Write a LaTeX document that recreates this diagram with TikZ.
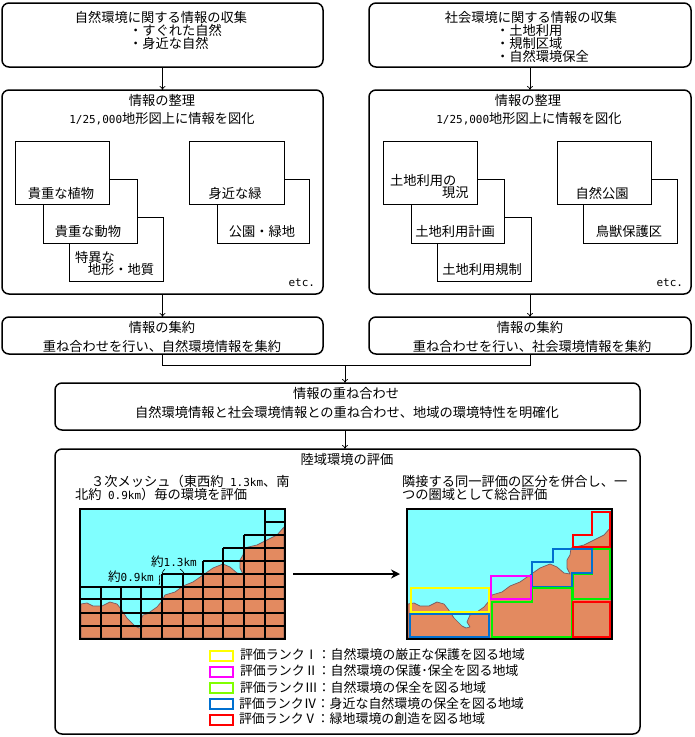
\documentclass[tikz,border=0pt]{standalone}
\usepackage{fontspec}
\setmainfont{Noto Sans CJK JP}
\newfontfamily\hw{DejaVu Sans Mono}
\usetikzlibrary{arrows.meta}
\tikzset{
  x=1pt,y=-1pt,
  every node/.style={inner sep=0pt,outer sep=0pt,font=\fontsize{13.25}{13}\selectfont},
  rbox/.style={draw=black,line width=1.5pt,rounded corners=7pt,fill=white},
  sbox/.style={draw=black,line width=0.8pt,fill=white},
  link/.style={draw=black,line width=0.7pt},
  flow/.style={link,-{To[length=4pt,width=6pt]}},
  swatch/.style={draw,line width=2pt,fill=white,minimum width=23pt,minimum height=10pt},
  lt/.style={anchor=west},
  legendtext/.style={anchor=west,font=\fontsize{12.95}{13}\selectfont},
  grid line/.style={draw=black,line width=1.3pt},
  rank/.style={line width=2pt,line join=miter},
}
\newcommand{\bx}[6]{% style,name,x1,y1,x2,y2
  \pgfmathsetmacro{\bw}{#5-#3}\pgfmathsetmacro{\bh}{#6-#4}
  \pgfmathsetmacro{\bcx}{(#3+#5)/2}\pgfmathsetmacro{\bcy}{(#4+#6)/2}
  \node[#1,minimum width=\bw pt,minimum height=\bh pt] (#2) at (\bcx,\bcy) {};}
\newcommand{\hwt}[1]{{\hw\fontsize{11}{13}\selectfont #1}}
\newcommand{\mapbase}{%
  \fill[seacol] (80,509) rectangle (285,639);
  \filldraw[fill=landcol,draw=coastcol,line width=0.7pt,line join=round]
    (81,604) -- (87,603) -- (93,606) -- (102,606) -- (110,602) -- (117,604) -- (121,609) -- (127,618)
    -- (135,626) -- (139,628) -- (143,627) -- (140,622) -- (143,615) -- (147,614) -- (157,607) -- (162,601)
    -- (165,595) -- (175,592) -- (183,586) -- (193,582) -- (203,575) -- (213,568) -- (223,564)
    -- (230,567) -- (237,573) -- (243,574) -- (240,568) -- (240,560) -- (243,555) -- (244,548)
    -- (257,545) -- (265,541) -- (277,535) -- (284,527) -- (284,638) -- (81,638) -- cycle;
}
\definecolor{seacol}{HTML}{80FFFF}
\definecolor{landcol}{HTML}{E38A60}
\definecolor{coastcol}{HTML}{7A5A60}
\definecolor{rkyellow}{HTML}{FFFF00}
\definecolor{rkmagenta}{HTML}{FF00FF}
\definecolor{rkgreen}{HTML}{00F000}
\definecolor{rklime}{HTML}{80FF00}
\definecolor{rkblue}{HTML}{0070D0}
\definecolor{rkred}{HTML}{FF0000}
\begin{document}
\begin{tikzpicture}
\useasboundingbox (0,0) rectangle (695,737);
\fill[white] (0,0) rectangle (695,737);
% main boxes
\bx{rbox}{a1}{2}{3}{323}{67}
\bx{rbox}{b1}{369}{3}{691}{67}
\bx{rbox}{a2}{2}{90}{323}{294}
\bx{rbox}{b2}{369}{90}{691}{294}
\bx{rbox}{a3}{2}{317}{323}{354}
\bx{rbox}{b3}{369}{317}{691}{354}
\bx{rbox}{c1}{55}{383}{640}{430}
\bx{rbox}{c2}{55}{449}{640}{734}
% connectors
\draw[flow] (a1.south) -- (a2.north);
\draw[flow] (b1.south) -- (b2.north);
\draw[flow] (a2.south) -- (a3.north);
\draw[flow] (b2.south) -- (b3.north);
\coordinate (junction) at (345,365);
\draw[link] (a3.south) |- (junction);
\draw[link] (b3.south) |- (junction);
\draw[flow] (junction) -- (junction |- c1.north);
\draw[flow] (junction |- c1.south) -- (junction |- c2.north);
% top texts
\node (t1) at (161,17) {自然環境に関する情報の収集};
\node[lt] (t2) at (129,30) {・すぐれた自然};
\node[lt] (t3) at (129,43) {・身近な自然};
\node (t4) at (531,17) {社会環境に関する情報の収集};
\node[lt] (t5) at (496,30) {・土地利用};
\node[lt] (t6) at (496,43) {・規制区域};
\node[lt] (t7) at (496,56) {・自然環境保全};
% left inner
\node (t8) at (162,100) {情報の整理};
\node (t9) at (162,119) {\hwt{1/25,000}地形図上に情報を図化};
\bx{sbox}{s3}{69}{217}{163}{281}
\bx{sbox}{s2}{43}{179}{137}{243}
\bx{sbox}{s1}{15}{141}{109}{204}
\bx{sbox}{s5}{217}{179}{309}{243}
\bx{sbox}{s4}{189}{141}{284}{204}
\node (t10) at (61,193) {貴重な植物};
\node (t11) at (88,231) {貴重な動物};
\node[lt] (t12) at (75,257) {特異な};
\node (t13) at (121,269) {地形・地質};
\node (t14) at (235,193) {身近な緑};
\node (t15) at (262,231) {公園・緑地};
\node[anchor=east] (t16) at (315,283) {\hwt{etc.}};
% right inner
\node (t17) at (528,100) {情報の整理};
\node (t18) at (529,119) {\hwt{1/25,000}地形図上に情報を図化};
\bx{sbox}{r3}{437}{217}{531}{281}
\bx{sbox}{r2}{411}{179}{504}{243}
\bx{sbox}{r1}{383}{141}{477}{204}
\bx{sbox}{r5}{583}{179}{677}{243}
\bx{sbox}{r4}{557}{141}{651}{204}
\node[lt] (t19) at (390,180) {土地利用の};
\node[lt] (t20) at (442,193) {現況};
\node (t21) at (455,231) {土地利用計画};
\node (t22) at (482,269) {土地利用規制};
\node (t23) at (602,193) {自然公園};
\node (t24) at (629,231) {鳥獣保護区};
\node[anchor=east] (t25) at (683,283) {\hwt{etc.}};
% aggregate
\node (t26) at (162,327) {情報の集約};
\node (t27) at (162,346) {重ね合わせを行い、自然環境情報を集約};
\node (t28) at (530,327) {情報の集約};
\node (t29) at (532,346) {重ね合わせを行い、社会環境情報を集約};
\node (t30) at (346,393) {情報の重ね合わせ};
\node (t31) at (347,412) {自然環境情報と社会環境情報との重ね合わせ、地域の環境特性を明確化};
\node (t32) at (347,459) {陸域環境の評価};
\node[lt] (t33) at (91,481) {３次メッシュ（東西約\hwt{ 1.3km}、南};
\node[lt] (t34) at (75,494) {北約\hwt{ 0.9km}）毎の環境を評価};
\node[lt] (t35) at (402,481) {隣接する同一評価の区分を併合し、一};
\node[lt] (t36) at (402,494) {つの圏域として総合評価};
% left map
\mapbase
\begin{scope}[grid line]
\foreach \yy in {587,599,613,626} \draw (80,\yy) -- (285,\yy);
\draw (162,574) -- (285,574);
\draw (203,561) -- (285,561);
\draw (223,548) -- (285,548);
\draw (244,535) -- (285,535);
\draw (265,522) -- (285,522);
\foreach \xx in {101,121,141} \draw (\xx,587) -- (\xx,639);
\draw (162,574) -- (162,639);
\draw (183,574) -- (183,639);
\draw (203,561) -- (203,639);
\draw (223,548) -- (223,639);
\draw (244,535) -- (244,639);
\draw (265,509) -- (265,639);
\end{scope}
\draw[black,line width=1.5pt] (80,509) rectangle (285,639);
\node[font=\fontsize{12.6}{13}\selectfont] (t37) at (174,562) {約\hwt{1.3km}};
\node[font=\fontsize{12.6}{13}\selectfont] (t38) at (131,577) {約\hwt{0.9km}};
\draw[black,line width=0.6pt] (162,573) .. controls (163,571) and (164,570) .. (165,569);
\draw[black,line width=0.6pt] (180,569) .. controls (182,570) and (183,572) .. (184,573);
\draw[black,line width=0.6pt] (160,575) .. controls (158,578) and (161,582) .. (159,585);
% right map
\begin{scope}[shift={(327,0)}]
\mapbase
\end{scope}
\draw[rank,rkred] (592,512) -- (610,512) -- (610,547) -- (573,547) -- (573,535) -- (592,535) -- cycle;
\draw[rank,rkgreen] (573,574) -- (592,574) -- (592,549) -- (610,549) -- (610,599) -- (573,599) -- cycle;
\draw[rank,rkblue] (553,549) -- (592,549) -- (592,573) -- (572,573) -- (572,587) -- (532,587) -- (532,562) -- (553,562) -- cycle;
\draw[rank,rkgreen] (492,602) -- (532,602) -- (532,588) -- (572,588) -- (572,637) -- (492,637) -- cycle;
\draw[rank,rkred] (573,602) rectangle (610,637);
\draw[rank,rkmagenta] (491,576) rectangle (531,599);
\draw[rank,rkyellow] (411,588) rectangle (489,612);
\draw[rank,rkblue] (410,614) rectangle (489,637);
\draw[black,line width=2pt] (407,509) rectangle (612,639);
% arrow
\coordinate (mapL) at (293,574);
\coordinate (mapR) at (400,574);
\draw[black,line width=2pt,-{Stealth[length=9pt,width=9pt]}] (mapL) -- (mapR);
% legend
\node[swatch,draw=rkyellow] (k1) at (221,655.5) {};
\node[swatch,draw=rkmagenta] (k2) at (221,671.5) {};
\node[swatch,draw=rklime] (k3) at (221,687.5) {};
\node[swatch,draw=rkblue] (k4) at (221,703.5) {};
\node[swatch,draw=rkred] (k5) at (221,719.5) {};
\node[legendtext] (l1) at (240,655) {評価ランクⅠ：自然環境の厳正な保護を図る地域};
\node[legendtext] (l2) at (240,671) {評価ランクⅡ：自然環境の保護･保全を図る地域};
\node[legendtext] (l3) at (240,688) {評価ランクⅢ：自然環境の保全を図る地域};
\node[legendtext] (l4) at (239,704) {評価ランクⅣ：身近な自然環境の保全を図る地域};
\node[legendtext] (l5) at (239,719) {評価ランクⅤ：緑地環境の創造を図る地域};
\end{tikzpicture}
\end{document}
